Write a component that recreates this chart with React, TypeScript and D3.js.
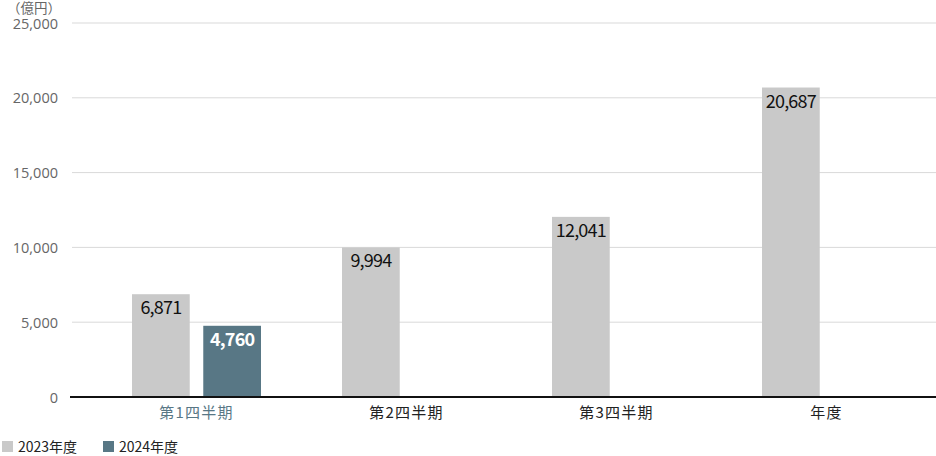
import React from 'react';
import * as d3 from 'd3';

const CATEGORIES = ['第1四半期', '第2四半期', '第3四半期', '年度'];
const SERIES = ['2023年度', '2024年度'];
const VALUES_2023 = [6871, 9994, 12041, 20687];
const VALUES_2024: (number | null)[] = [4760, null, null, null];
const Y_TICKS = [0, 5000, 10000, 15000, 20000, 25000];
const UNIT_LABEL = '（億円）';

const COLORS = ['#c9c9c9', '#587785'];
const FONT = '"Noto Sans CJK JP", "Noto Sans", sans-serif';
const NUM_FONT = '"Open Sans", "Noto Sans", sans-serif';

const W = 936;
const H = 456;

const App: React.FC = () => {
  const x = d3.scaleBand<string>().domain(CATEGORIES).range([91.5, 931.5]).paddingInner(0).paddingOuter(0);
  const groupW = 129;
  const sub = d3.scaleBand<string>().domain(SERIES).range([0, groupW]).paddingInner(0.19);
  const y = d3.scaleLinear().domain([0, 25000]).range([397, 23]);
  const fmt = d3.format(',');

  const bars: { cat: string; s: number; v: number }[] = [];
  CATEGORIES.forEach((c, i) => {
    bars.push({ cat: c, s: 0, v: VALUES_2023[i] });
    const v2 = VALUES_2024[i];
    if (v2 != null) bars.push({ cat: c, s: 1, v: v2 });
  });

  const bx = (c: string, s: number) =>
    (x(c) as number) + (x.bandwidth() - groupW) / 2 + (sub(SERIES[s]) as number);

  return (
    <div style={{ position: 'absolute', left: 0, top: 0, width: W, height: H }}>
      <svg width={W} height={H} style={{ display: 'block', fontFamily: FONT }}>
        <rect width={W} height={H} fill="#fff" />
        {/* grid */}
        {Y_TICKS.filter(t => t > 0).map(t => (
          <line key={t} x1={72} x2={W} y1={y(t)} y2={y(t)} stroke="#d9d9d9" strokeWidth={1} />
        ))}
        {Y_TICKS.map(t => (
          <text key={t} x={58} y={y(t) + 5.5} textAnchor="end" fontSize={14.5}
            fontFamily={NUM_FONT} fill="#666">
            {fmt(t)}
          </text>
        ))}
        <text x={7} y={13} fontSize={13.5} fill="#666">{UNIT_LABEL}</text>

        {/* bars */}
        {bars.map(b => (
          <rect
            key={b.cat + b.s}
            x={bx(b.cat, b.s)}
            y={y(b.v)}
            width={sub.bandwidth()}
            height={y(0) - y(b.v)}
            fill={COLORS[b.s]}
          />
        ))}
        {bars.map(b => (
          <text
            key={'t' + b.cat + b.s}
            x={bx(b.cat, b.s) + sub.bandwidth() / 2}
            y={y(b.v) + 20}
            textAnchor="middle"
            fontSize={18}
            letterSpacing={-0.8}
            fontWeight={b.s === 1 ? 700 : 400}
            fill={b.s === 1 ? '#fff' : '#111'}
          >
            {fmt(b.v)}
          </text>
        ))}

        {/* baseline */}
        <line x1={70} x2={W} y1={y(0)} y2={y(0)} stroke="#111" strokeWidth={2} />

        {CATEGORIES.map((c, i) => (
          <text
            key={c}
            x={(x(c) as number) + x.bandwidth() / 2}
            y={418}
            textAnchor="middle"
            fontSize={15}
            letterSpacing={1.2}
            fill={i === 0 ? COLORS[1] : '#222'}
          >
            {c}
          </text>
        ))}

        {/* legend */}
        {SERIES.map((s, i) => (
          <g key={s} transform={`translate(${2 + i * 101},441)`}>
            <rect width={11} height={11} fill={COLORS[i]} />
            <text x={16} y={11} fontSize={14} fill="#222">{s}</text>
          </g>
        ))}
      </svg>
    </div>
  );
};

export default App;
